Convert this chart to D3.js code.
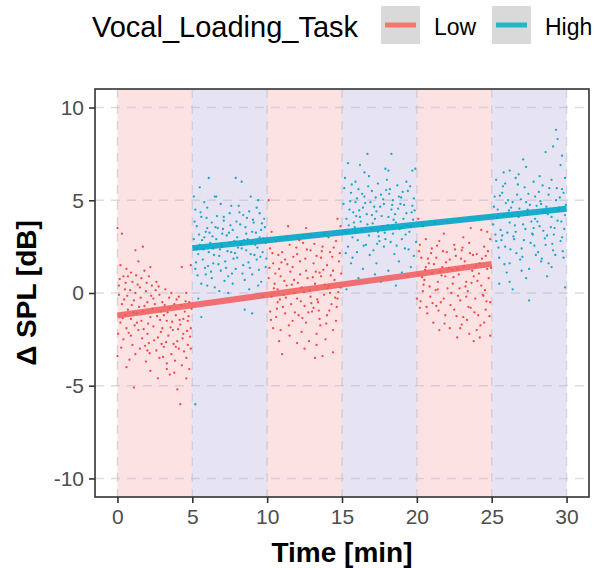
<!DOCTYPE html>
<html lang="en">
<head>
<meta charset="UTF-8">
<title>Vocal loading</title>
<script src="https://d3js.org/d3.v7.min.js"></script>
<style>
  body { margin: 0; background: #fff; }
  svg { font-family: "Liberation Sans", Arial, sans-serif; }
</style>
</head>
<body>
<svg id="chart" width="594" height="568"></svg>
<script>
// task blocks (minutes) and which condition is running
const blocks = [
  { start: 0, end: 5, task: 'Low' }, { start: 5, end: 10, task: 'High' },
  { start: 10, end: 15, task: 'Low' }, { start: 15, end: 20, task: 'High' },
  { start: 20, end: 25, task: 'Low' }, { start: 25, end: 30, task: 'High' }
];
const xTicks = [0, 5, 10, 15, 20, 25, 30];
const yTicks = [-10, -5, 0, 5, 10];

// scatter points [time, dSPL]
const low1 = [[0.0,3.5],[0.3,3.2],[1.2,2.3],[1.7,2.5],[0.2,1.5],[0.6,1.3],[1.4,1.7],[0.9,1.1],[2.1,0.9],[2.6,0.6],[0.1,0.4],[0.5,0.2],[1.0,0.6],[1.5,0.3],[1.9,0.1],[2.3,0.4],[2.8,-0.1],[3.2,0.2],[3.6,0.0],[4.1,-0.2],[4.6,0.0],[4.9,1.5],[4.3,1.4],[0.3,-0.6],[0.7,-0.9],[1.1,-0.4],[1.3,-1.1],[1.8,-0.7],[2.2,-1.3],[2.5,-0.6],[2.9,-1.0],[3.3,-1.5],[3.5,-0.8],[3.9,-1.2],[4.2,-1.7],[4.5,-1.0],[4.8,-0.5],[0.2,-1.6],[0.6,-1.9],[0.9,-1.4],[1.4,-2.0],[1.6,-1.5],[2.0,-2.2],[2.4,-1.8],[2.7,-2.4],[3.0,-1.9],[3.4,-2.3],[3.7,-2.0],[4.0,-2.6],[4.4,-2.2],[4.7,-2.8],[4.9,-1.9],[0.4,-2.5],[1.0,-2.8],[1.5,-3.0],[2.1,-2.7],[2.6,-3.1],[3.1,-2.9],[3.6,-3.3],[4.1,-3.0],[4.6,-3.5],[0.0,-3.4],[0.8,-3.6],[1.9,-3.7],[2.8,-3.5],[3.3,-4.1],[3.8,-4.3],[4.3,-3.9],[4.8,-4.1],[2.2,-4.2],[2.7,-4.6],[3.5,-4.4],[1.1,-5.1],[4.0,-5.2],[4.2,-6.0],[4.9,-3.0],[0.1,-0.1],[0.5,-1.2],[1.2,0.0],[2.4,-0.3],[3.0,-0.5],[3.8,-0.6],[4.4,-1.4],[1.7,-1.0],[2.9,-2.1],[0.7,0.9],[1.8,1.2],[3.1,-1.2],[2.0,-0.5],[0.9,-2.3],[3.9,-2.9],[1.3,-1.6],[4.7,-1.5],
  [0.15,0.75],[0.45,-0.35],[0.85,0.15],[1.25,0.95],[1.55,-0.25],[1.95,0.55],[2.35,-0.85],[2.75,0.35],[3.15,-0.65],[3.55,-1.85],[3.95,-0.35],[4.35,-2.45],[4.75,-1.25],[0.35,-1.35],[0.75,-2.15],[1.15,-1.75],[1.65,-2.45],[2.05,-1.65],[2.45,-2.55],[2.85,-1.45],[3.25,-2.65],[3.65,-1.55],[4.05,-1.95],[4.45,-3.15],[4.85,-2.35],[0.25,-2.95],[0.65,-0.15],[1.05,-1.05],[1.45,-0.75],[1.85,-2.85],[2.25,-0.15],[2.65,-1.25],[3.05,-3.45],[3.45,-0.25],[3.85,-3.65],[4.25,-0.65],[4.65,-2.05],[0.55,0.55],[0.95,-0.65],[1.35,0.45],[1.75,-1.95],[2.15,-3.25],[2.55,0.15],[2.95,-2.75],[3.35,-1.05],[3.75,-2.75],[4.15,-1.45],[4.55,-0.45],[4.95,-0.85],[0.05,-2.2],[0.4,0.9],[1.6,0.8],[2.2,1.4],[3.3,-3.8],[4.6,-4.6],[1.2,-3.3],[0.6,-4.0],[2.0,-3.1]];
const high1 = [[6.1,6.2],[7.9,6.2],[8.3,6.0],[5.5,5.7],[6.5,5.2],[6.6,5.2],[5.1,5.2],[9.4,5.0],[5.2,-6.0],[5.6,-1.3],[8.5,-0.9],[9.0,-1.1],[5.4,-0.3],[9.7,-0.2],[7.4,0.0],[6.8,0.1],[5.2,4.5],[5.6,4.1],[6.0,4.6],[6.9,4.8],[7.5,4.3],[8.1,4.7],[8.8,4.4],[9.3,4.6],[9.8,4.0],[5.3,3.6],[5.9,3.3],[6.3,3.8],[6.7,3.5],[7.1,3.9],[7.7,3.4],[8.2,3.7],[8.6,3.2],[9.1,3.8],[9.6,3.4],[5.1,2.9],[5.5,2.6],[5.8,3.0],[6.2,2.7],[6.6,2.9],[7.0,2.5],[7.3,3.1],[7.8,2.8],[8.3,2.4],[8.7,2.9],[9.2,2.6],[9.5,3.0],[9.9,2.7],[5.4,2.1],[5.7,1.8],[6.1,2.2],[6.4,1.6],[6.8,2.0],[7.2,1.7],[7.6,2.2],[8.0,1.9],[8.4,1.5],[8.9,2.1],[9.3,1.8],[9.7,2.2],[5.2,1.3],[5.9,1.0],[6.3,0.8],[6.9,1.2],[7.4,0.9],[7.9,1.3],[8.5,0.7],[9.0,1.0],[9.6,0.6],[5.6,0.5],[6.5,0.3],[7.7,0.5],[8.8,0.2],[9.4,0.4],[6.0,3.5],[7.0,3.2],[8.0,3.0],[9.0,3.3],[6.4,2.4],[7.5,2.7],[8.6,2.3],[5.3,2.4],[9.9,1.4],[7.1,4.1],[8.4,4.2],
  [5.15,3.85],[5.45,3.15],[5.75,2.35],[6.05,1.45],[6.35,3.05],[6.65,4.15],[6.95,2.65],[7.25,1.35],[7.55,3.65],[7.85,2.15],[8.15,4.35],[8.45,2.85],[8.75,1.65],[9.05,3.95],[9.35,2.45],[9.65,3.75],[9.95,1.85],[5.25,1.65],[5.55,4.35],[5.85,1.35],[6.15,3.25],[6.45,2.05],[6.75,1.55],[7.05,3.45],[7.35,2.25],[7.65,1.05],[7.95,3.85],[8.25,2.65],[8.55,3.55],[8.85,1.35],[9.15,2.05],[9.45,1.25],[9.75,2.95],[5.35,0.95],[5.65,2.85],[5.95,4.05],[6.25,1.15],[6.55,3.55],[6.85,2.35],[7.15,0.65],[7.45,3.25],[7.75,1.85],[8.05,2.45],[8.35,1.05],[8.65,4.05],[8.95,2.75],[9.25,3.25],[9.55,1.95],[9.85,3.55],[6.0,0.4],[7.6,4.7],[8.9,5.2],[5.8,4.9],[9.5,4.3]];
const low2 = [[10.1,5.0],[10.3,3.3],[11.4,3.6],[12.6,3.5],[13.8,3.2],[14.7,4.0],[14.9,3.6],[10.2,2.4],[10.6,2.8],[11.0,2.2],[11.5,2.6],[12.0,2.1],[12.4,2.7],[12.9,2.3],[13.3,2.0],[13.7,2.5],[14.2,2.2],[14.6,2.8],[10.4,1.6],[10.8,1.3],[11.2,1.8],[11.7,1.4],[12.2,1.7],[12.6,1.2],[13.1,1.6],[13.5,1.1],[14.0,1.5],[14.4,1.2],[14.8,1.7],[10.1,0.8],[10.5,0.5],[10.9,0.9],[11.3,0.4],[11.8,0.7],[12.3,0.3],[12.7,0.8],[13.2,0.5],[13.6,0.9],[14.1,0.4],[14.5,0.7],[14.9,0.3],[10.3,-0.2],[10.7,-0.5],[11.1,-0.1],[11.6,-0.6],[12.0,-0.3],[12.5,-0.7],[12.9,-0.2],[13.4,-0.5],[13.8,-0.1],[14.3,-0.6],[14.7,-0.3],[10.2,-1.0],[10.6,-1.3],[11.2,-1.1],[11.7,-1.5],[12.1,-1.2],[12.6,-1.6],[13.0,-1.0],[13.5,-1.4],[14.0,-1.2],[14.6,-1.5],[10.9,-2.0],[11.5,-2.3],[12.3,-2.1],[12.8,-2.6],[13.3,-2.2],[13.9,-2.5],[14.4,-2.0],[11.0,-3.3],[12.5,-3.0],[13.3,-2.8],[13.7,-3.4],[14.4,-3.2],[10.4,-1.9],[11.8,0.0],[13.1,-0.8],[14.2,0.0],[10.7,0.2],[12.2,1.0],[13.6,1.9],
  [10.15,1.35],[10.45,0.25],[10.75,2.05],[11.05,-0.75],[11.35,1.55],[11.65,0.45],[11.95,2.45],[12.25,-0.45],[12.55,1.85],[12.85,0.15],[13.15,2.65],[13.45,-0.95],[13.75,1.25],[14.05,0.25],[14.35,1.95],[14.65,-0.75],[14.95,1.05],[10.25,-1.45],[10.55,1.05],[10.85,-0.35],[11.15,0.65],[11.45,-1.75],[11.75,1.95],[12.05,0.55],[12.35,-1.35],[12.65,2.35],[12.95,-0.55],[13.25,1.15],[13.55,-1.75],[13.85,0.45],[14.15,-0.95],[14.45,2.45],[14.75,0.05],[10.35,2.15],[10.65,-0.85],[10.95,1.65],[11.25,-0.25],[11.55,1.15],[11.85,-1.05],[12.15,2.85],[12.45,0.05],[12.75,-1.05],[13.05,0.85],[13.35,-0.35],[13.65,2.25],[13.95,-1.65],[14.25,0.95],[14.55,-0.25],[14.85,2.15],[11.3,3.0],[12.9,3.1],[14.1,3.0],[10.8,-2.6],[12.0,-2.7],[13.2,-3.5]];
const high2 = [[16.7,7.5],[18.3,7.5],[15.4,7.0],[16.2,6.9],[17.9,6.7],[19.7,6.6],[19.9,6.7],[15.2,6.2],[15.9,6.0],[16.8,6.3],[17.4,5.9],[18.0,6.1],[18.7,5.8],[19.3,6.0],[15.6,5.4],[16.1,5.6],[16.5,5.2],[17.0,5.5],[17.6,5.3],[18.2,5.6],[18.8,5.2],[19.4,5.5],[19.8,5.1],[15.1,4.8],[15.5,4.5],[15.9,4.9],[16.4,4.6],[16.9,4.9],[17.3,4.4],[17.8,4.8],[18.3,4.5],[18.9,4.8],[19.3,4.3],[19.7,4.7],[15.3,4.0],[15.8,3.8],[16.2,4.1],[16.7,3.7],[17.2,4.0],[17.7,3.6],[18.1,4.1],[18.6,3.8],[19.1,4.0],[19.6,3.6],[15.2,3.3],[15.7,3.0],[16.3,3.4],[16.8,3.1],[17.4,3.3],[17.9,2.9],[18.4,3.2],[19.0,2.9],[19.5,3.3],[15.4,2.5],[16.0,2.2],[16.6,2.6],[17.1,2.3],[17.8,2.5],[18.5,2.1],[19.2,2.4],[19.8,2.0],[15.6,1.6],[16.4,1.3],[17.3,1.6],[18.1,1.2],[18.8,1.7],[19.6,1.4],[16.1,0.8],[17.6,0.6],[18.6,0.4],[19.4,0.9],[15.3,0.2],[17.0,4.2],[18.4,5.0],[16.0,5.1],[19.0,3.5],[17.5,2.8],
  [15.15,5.65],[15.45,3.65],[15.75,4.35],[16.05,2.85],[16.35,5.35],[16.65,4.25],[16.95,3.45],[17.25,5.15],[17.55,4.65],[17.85,3.25],[18.15,5.35],[18.45,3.95],[18.75,4.55],[19.05,5.45],[19.35,3.65],[19.65,4.35],[19.95,2.75],[15.25,2.15],[15.55,4.95],[15.85,3.55],[16.15,4.45],[16.45,2.55],[16.75,5.75],[17.05,3.75],[17.35,2.65],[17.65,4.15],[17.95,5.55],[18.25,2.75],[18.55,4.25],[18.85,3.45],[19.15,4.75],[19.45,2.35],[19.75,3.95],[15.35,3.25],[15.65,5.85],[15.95,4.15],[16.25,3.85],[16.55,4.85],[16.85,2.05],[17.15,4.65],[17.45,3.05],[17.75,5.05],[18.05,3.65],[18.35,4.75],[18.65,2.55],[18.95,5.15],[19.25,3.15],[19.55,5.75],[19.85,4.45],[16.5,6.5],[18.1,6.6],[17.2,1.0],[19.0,1.1],[15.7,1.9]];
const low3 = [[20.1,4.0],[20.4,3.6],[21.2,3.8],[22.0,3.9],[23.6,3.5],[24.3,3.4],[20.2,2.6],[20.6,2.9],[21.0,2.4],[21.5,2.8],[22.0,2.2],[22.5,2.6],[23.0,2.3],[23.5,2.7],[24.0,2.1],[24.5,2.5],[24.9,2.9],[20.3,1.9],[20.8,1.6],[21.3,1.9],[21.7,1.4],[22.2,1.8],[22.7,1.3],[23.2,1.7],[23.7,1.2],[24.2,1.6],[24.7,1.3],[20.1,1.0],[20.5,0.7],[21.0,1.1],[21.4,0.6],[21.9,0.9],[22.4,0.5],[22.8,1.0],[23.3,0.6],[23.8,0.9],[24.3,0.4],[24.8,0.8],[20.4,0.1],[20.9,-0.2],[21.4,0.2],[21.8,-0.3],[22.3,0.0],[22.9,-0.4],[23.4,0.1],[23.9,-0.3],[24.4,-0.1],[24.9,-0.5],[20.2,-0.8],[20.7,-1.1],[21.3,-0.7],[21.9,-1.2],[22.5,-0.9],[23.1,-1.3],[23.6,-0.8],[24.1,-1.2],[24.6,-0.9],[21.1,-1.6],[22.2,-1.9],[23.0,-1.7],[23.5,-2.2],[24.0,-2.0],[24.5,-1.6],[22.7,-2.4],[23.8,-2.6],[24.9,-2.3],[20.6,1.4],[22.6,2.0],[24.6,2.0],[21.6,-0.5],[23.3,-0.2],[20.0,-0.3],
  [20.15,2.25],[20.45,0.45],[20.75,1.85],[21.05,-0.55],[21.35,2.55],[21.65,0.95],[21.95,1.65],[22.25,-0.65],[22.55,2.35],[22.85,0.25],[23.15,1.45],[23.45,-0.75],[23.75,2.05],[24.05,0.65],[24.35,1.85],[24.65,-0.45],[24.95,1.35],[20.25,-0.45],[20.55,1.25],[20.85,0.35],[21.15,1.55],[21.45,-0.95],[21.75,2.25],[22.05,0.25],[22.35,1.25],[22.65,-1.25],[22.95,1.85],[23.25,0.35],[23.55,2.15],[23.85,-1.05],[24.15,1.05],[24.45,-0.15],[24.75,2.25],[20.35,0.85],[20.65,-0.75],[20.95,2.15],[21.25,0.15],[21.55,1.15],[21.85,-1.65],[22.15,1.35],[22.45,0.85],[22.75,-0.15],[23.05,2.45],[23.35,-1.45],[23.65,0.55],[23.95,1.45],[24.25,-1.75],[24.55,0.15],[24.85,-1.25],[21.8,3.2],[23.1,3.0],[24.7,3.3],[21.5,-2.0],[22.9,-1.9],[24.2,-2.4]];
const high3 = [[29.3,8.8],[29.4,8.3],[28.6,7.6],[27.1,7.2],[29.1,7.9],[26.2,6.6],[27.3,6.8],[29.6,6.9],[25.3,6.1],[25.9,5.9],[26.6,6.2],[27.2,5.7],[27.8,6.0],[28.4,5.8],[29.0,6.1],[29.7,5.6],[25.2,5.2],[25.7,5.4],[26.1,5.0],[26.7,5.3],[27.3,4.9],[27.9,5.2],[28.3,4.8],[28.8,5.3],[29.3,5.0],[29.8,5.4],[25.4,4.5],[25.8,4.2],[26.3,4.6],[26.8,4.1],[27.4,4.5],[27.9,4.0],[28.5,4.4],[29.0,4.1],[29.5,4.6],[29.9,4.2],[25.1,3.7],[25.6,3.4],[26.2,3.8],[26.6,3.3],[27.1,3.7],[27.7,3.2],[28.2,3.6],[28.7,3.1],[29.2,3.5],[29.7,3.0],[25.3,2.8],[25.9,2.5],[26.5,2.9],[27.0,2.4],[27.6,2.7],[28.1,2.2],[28.6,2.6],[29.1,2.3],[29.6,2.8],[25.5,1.9],[26.2,1.6],[26.9,1.8],[27.5,1.3],[28.3,1.7],[29.0,1.4],[29.8,1.9],[25.5,0.5],[26.2,0.6],[27.5,-0.4],[28.7,0.9],[29.9,0.3],[26.0,1.1],[27.3,0.8],[28.0,4.7],[26.4,4.9],[29.4,3.9],[25.7,3.1],[27.8,3.5],
  [25.15,4.65],[25.45,2.45],[25.75,5.75],[26.05,3.25],[26.35,4.15],[26.65,2.15],[26.95,5.05],[27.25,3.45],[27.55,4.75],[27.85,2.55],[28.15,5.45],[28.45,3.35],[28.75,4.25],[29.05,2.65],[29.35,5.65],[29.65,3.85],[29.95,4.75],[25.25,3.15],[25.55,5.25],[25.85,1.55],[26.15,4.45],[26.45,3.05],[26.75,5.85],[27.05,1.95],[27.35,4.25],[27.65,3.85],[27.95,2.05],[28.25,4.95],[28.55,2.95],[28.85,5.65],[29.15,3.15],[29.45,4.45],[29.75,2.25],[25.35,4.05],[25.65,2.85],[25.95,4.85],[26.25,2.35],[26.55,3.65],[26.85,4.55],[27.15,2.85],[27.45,5.35],[27.75,3.15],[28.05,3.85],[28.35,1.85],[28.65,4.65],[28.95,3.55],[29.25,2.05],[29.55,5.15],[29.85,3.45],[26.8,6.4],[28.2,6.3],[29.7,7.4],[27.0,1.2],[28.8,1.6],[26.4,0.2],[25.8,6.5],[29.9,6.2]];

const points = [
  ...low1.map(d => ({ t: d[0], v: d[1], task: 'Low' })),
  ...high1.map(d => ({ t: d[0], v: d[1], task: 'High' })),
  ...low2.map(d => ({ t: d[0], v: d[1], task: 'Low' })),
  ...high2.map(d => ({ t: d[0], v: d[1], task: 'High' })),
  ...low3.map(d => ({ t: d[0], v: d[1], task: 'Low' })),
  ...high3.map(d => ({ t: d[0], v: d[1], task: 'High' }))
];

// linear fits, start and end
const fitLow = [[0, -1.21], [25, 1.57]];
const fitHigh = [[5, 2.42], [30, 4.54]];

const shade = { Low: '#f07070', High: '#8075c0' };
const pointCol = { Low: '#f04848', High: '#1aa5ca' };

const svg = d3.select('#chart');
const x = d3.scaleLinear().domain([-1.5, 31.5]).range([95, 589]);
const y = d3.scaleLinear().domain([-11, 11]).range([497, 89]);

// shaded blocks
svg.selectAll('.block')
  .data(blocks)
  .enter().append('rect')
  .attr('x', d => x(d.start))
  .attr('y', y(11))
  .attr('width', d => x(d.end) - x(d.start))
  .attr('height', y(-11) - y(11))
  .attr('fill', d => shade[d.task])
  .attr('fill-opacity', 0.2);

// dashed grid
const grid = svg.append('g')
  .attr('stroke', '#b8b8c8')
  .attr('stroke-opacity', 0.5)
  .attr('stroke-width', 1.4)
  .attr('stroke-dasharray', '9,7');
grid.selectAll('.gx').data(xTicks).enter().append('line')
  .attr('x1', d => x(d)).attr('x2', d => x(d))
  .attr('y1', y(11)).attr('y2', y(-11));
grid.selectAll('.gy').data(yTicks).enter().append('line')
  .attr('x1', x(-1.5)).attr('x2', x(31.5))
  .attr('y1', d => y(d)).attr('y2', d => y(d));

// points
svg.append('g').selectAll('circle')
  .data(points)
  .enter().append('circle')
  .attr('cx', d => x(d.t))
  .attr('cy', d => y(d.v))
  .attr('r', 1.15)
  .attr('fill', d => pointCol[d.task]);

// fit lines
const line = d3.line().x(d => x(d[0])).y(d => y(d[1]));
svg.append('path').datum(fitLow).attr('d', line)
  .attr('stroke', '#f05a5c').attr('stroke-opacity', 0.85)
  .attr('stroke-width', 6).attr('fill', 'none');
svg.append('path').datum(fitHigh).attr('d', line)
  .attr('stroke', '#00a6c8').attr('stroke-opacity', 0.9)
  .attr('stroke-width', 6).attr('fill', 'none');

// panel border
svg.append('rect')
  .attr('x', x(-1.5)).attr('y', y(11))
  .attr('width', x(31.5) - x(-1.5)).attr('height', y(-11) - y(11))
  .attr('fill', 'none').attr('stroke', '#333').attr('stroke-width', 1.6);

// axes
const fmt = d => String(d);
const xAxis = svg.append('g')
  .attr('transform', 'translate(0,' + y(-11) + ')')
  .call(d3.axisBottom(x).tickValues(xTicks).tickFormat(fmt).tickSize(6).tickPadding(6));
const yAxis = svg.append('g')
  .attr('transform', 'translate(' + x(-1.5) + ',0)')
  .call(d3.axisLeft(y).tickValues(yTicks).tickFormat(fmt).tickSize(6).tickPadding(5));
[xAxis, yAxis].forEach(a => {
  a.select('.domain').remove();
  a.selectAll('line').attr('stroke', '#333').attr('stroke-width', 1.6);
  a.selectAll('text').attr('fill', '#4d4d4d')
    .style('font-size', '21px').style('font-family', '"Liberation Sans", Arial, sans-serif');
});

// axis titles
svg.append('text')
  .attr('x', (x(-1.5) + x(31.5)) / 2).attr('y', 562)
  .attr('text-anchor', 'middle')
  .style('font-size', '28px').style('font-weight', 'bold')
  .text('Time [min]');
svg.append('text')
  .attr('transform', 'translate(36,' + (y(0)) + ') rotate(-90)')
  .attr('text-anchor', 'middle')
  .style('font-size', '28px').style('font-weight', 'bold')
  .text('Δ SPL [dB]');

// legend
const legendItems = [
  { task: 'Low', color: '#f8766d', bx: 381, tx: 434 },
  { task: 'High', color: '#1fb8c6', bx: 492, tx: 545 }
];
svg.append('text').attr('x', 92).attr('y', 37)
  .style('font-size', '29px').text('Vocal_Loading_Task');
const leg = svg.selectAll('.leg').data(legendItems).enter().append('g');
leg.append('rect').attr('x', d => d.bx).attr('y', 6)
  .attr('width', 39).attr('height', 38).attr('fill', '#d9d9d9');
leg.append('line').attr('x1', d => d.bx + 4).attr('x2', d => d.bx + 35)
  .attr('y1', 25).attr('y2', 25)
  .attr('stroke', d => d.color).attr('stroke-width', 5);
leg.append('text').attr('x', d => d.tx).attr('y', 35)
  .style('font-size', '23px').text(d => d.task);
</script>
</body>
</html>
